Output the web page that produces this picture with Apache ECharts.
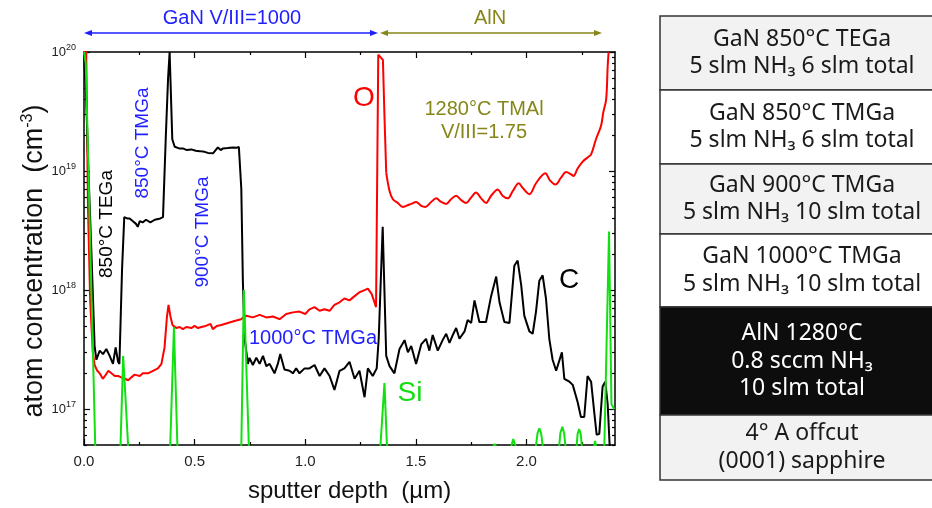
<!DOCTYPE html>
<html><head><meta charset="utf-8">
<script src="https://cdn.jsdelivr.net/npm/echarts@6/dist/echarts.min.js"></script>
<style>html,body{margin:0;padding:0;background:#fff}#c{width:932px;height:508px}</style>
</head><body><div id="c"></div>
<script>
// ---------- data ----------
const xTickValues = [0, 0.5, 1.0, 1.5, 2.0];
const xTickLabels = ['0.0', '0.5', '1.0', '1.5', '2.0'];
const xMinorValues = [0.25, 0.75, 1.25, 1.75, 2.25];
const yDecades = [17, 18, 19, 20];

const cDepth = [0.000,0.010,0.020,0.033,0.048,0.056,0.071,0.086,0.101,0.116,0.131,0.143,0.154,0.160,0.172,0.182,0.195,0.206,0.220,0.235,0.243,0.252,0.265,0.280,0.300,0.320,0.345,0.357,0.370,0.380,0.387,0.399,0.410,0.430,0.447,0.465,0.485,0.505,0.523,0.545,0.560,0.583,0.595,0.605,0.618,0.628,0.650,0.673,0.690,0.700,0.711,0.718,0.726,0.741,0.748,0.763,0.779,0.794,0.809,0.824,0.839,0.861,0.876,0.887,0.906,0.929,0.944,0.959,0.974,0.997,1.019,1.042,1.065,1.087,1.110,1.132,1.155,1.177,1.200,1.223,1.245,1.268,1.283,1.305,1.323,1.332,1.350,1.366,1.381,1.403,1.426,1.449,1.464,1.479,1.501,1.524,1.546,1.561,1.576,1.599,1.621,1.637,1.652,1.667,1.682,1.697,1.720,1.734,1.750,1.765,1.787,1.817,1.840,1.863,1.878,1.900,1.923,1.945,1.960,1.976,1.990,2.013,2.028,2.043,2.058,2.073,2.088,2.103,2.118,2.134,2.160,2.171,2.194,2.209,2.231,2.246,2.261,2.276,2.292,2.306,2.317,2.329,2.344,2.356,2.367,2.375,2.385];
const cConc = [1.0e20,4.0e19,1.0e19,2.2e18,3.4e17,2.6e17,3.1e17,2.9e17,3.2e17,2.8e17,2.4e17,3.3e17,2.5e17,2.4e17,1.5e18,4.1e18,4.0e18,4.0e18,3.8e18,3.6e18,3.4e18,3.8e18,3.7e18,3.9e18,3.7e18,3.9e18,4.0e18,4.1e18,2.0e19,6.0e19,1.0e20,1.85e19,1.6e19,1.55e19,1.55e19,1.5e19,1.52e19,1.48e19,1.47e19,1.45e19,1.42e19,1.41e19,1.5e19,1.58e19,1.5e19,1.55e19,1.56e19,1.58e19,1.57e19,1.59e19,7.1e18,1.2e18,3.9e17,2.4e17,2.7e17,2.35e17,2.7e17,2.4e17,2.8e17,2.3e17,2.4e17,2.0e17,2.4e17,2.9e17,2.15e17,2.1e17,2.0e17,2.2e17,2.0e17,2.2e17,2.2e17,2.35e17,1.9e17,2.2e17,1.9e17,1.45e17,2.1e17,2.2e17,2.5e17,1.8e17,2.1e17,1.26e17,2.2e17,1.9e17,2.2e17,3.9e17,3.4e18,2.8e17,2.3e17,2.0e17,3.2e17,3.8e17,3.0e17,3.4e17,2.4e17,3.5e17,3.9e17,3.1e17,4.2e17,3.1e17,3.8e17,4.3e17,3.6e17,4.2e17,4.8e17,3.9e17,4.5e17,5.6e17,5.3e17,8.2e17,5.4e17,5.4e17,8.9e17,1.3e18,7.9e17,5.4e17,5.3e17,1.6e18,1.77e18,1.1e18,6.1e17,4.5e17,4.3e17,6.6e17,1.2e18,1.33e18,8.5e17,3.9e17,2.6e17,2.1e17,3.0e17,1.8e17,1.7e17,1.6e17,1.15e17,8.6e16,8.6e16,1.9e17,1.7e17,9.5e16,6.1e16,6.2e16,1.55e17,1.7e17,1.1e17,5.3e16,3.0e16];

const oDepth = [0.000,0.010,0.018,0.028,0.040,0.048,0.060,0.071,0.085,0.095,0.110,0.124,0.139,0.154,0.169,0.185,0.200,0.214,0.229,0.252,0.266,0.289,0.312,0.334,0.350,0.364,0.375,0.382,0.390,0.400,0.417,0.432,0.447,0.462,0.485,0.500,0.515,0.530,0.550,0.572,0.582,0.600,0.620,0.650,0.680,0.710,0.733,0.763,0.794,0.824,0.854,0.884,0.914,0.944,0.974,1.000,1.019,1.042,1.065,1.087,1.110,1.132,1.155,1.177,1.200,1.223,1.245,1.268,1.283,1.300,1.310,1.320,1.330,1.337,1.351,1.358,1.366,1.381,1.396,1.418,1.441,1.456,1.479,1.501,1.524,1.543,1.569,1.592,1.614,1.637,1.659,1.682,1.705,1.727,1.750,1.772,1.795,1.817,1.840,1.870,1.892,1.915,1.938,1.965,1.983,2.013,2.043,2.085,2.107,2.131,2.156,2.179,2.201,2.212,2.231,2.254,2.276,2.292,2.314,2.337,2.347,2.360,2.367,2.371];
const oConc = [1.0e20,1.0e20,5.0e18,8.0e17,3.0e17,2.35e17,2.1e17,2.0e17,1.8e17,1.9e17,2.1e17,2.0e17,1.9e17,1.9e17,1.85e17,1.8e17,1.75e17,1.85e17,1.95e17,1.9e17,2.0e17,2.0e17,2.1e17,2.2e17,2.4e17,3.3e17,6.0e17,7.5e17,6.1e17,5.1e17,4.8e17,4.9e17,4.7e17,4.9e17,4.8e17,5.0e17,4.8e17,4.9e17,5.0e17,5.2e17,4.7e17,5.0e17,5.1e17,5.3e17,5.5e17,5.7e17,6.1e17,5.9e17,6.2e17,5.9e17,6.0e17,5.7e17,6.3e17,6.5e17,6.6e17,6.3e17,6.9e17,7.2e17,6.7e17,6.9e17,6.7e17,7.5e17,7.9e17,8.5e17,8.2e17,8.9e17,9.6e17,1.0e18,1.03e18,9.3e17,8.2e17,7.2e17,9.5e19,9.5e19,8.6e19,2.9e19,9.7e18,6.8e18,5.8e18,5.4e18,5.0e18,5.1e18,5.3e18,5.5e18,5.1e18,5.0e18,5.5e18,5.9e18,5.5e18,5.3e18,5.8e18,6.2e18,5.7e18,5.4e18,6.0e18,6.6e18,5.9e18,5.4e18,6.2e18,7.0e18,6.2e18,5.9e18,6.8e18,7.9e18,7.2e18,6.4e18,7.9e18,9.6e18,8.3e18,7.7e18,8.8e18,9.8e18,9.4e18,9.1e18,1.05e19,1.2e19,1.3e19,1.38e19,1.85e19,2.4e19,3.1e19,4.0e19,7.6e19,1.0e20];

const siDepth = [0.000,0.008,0.060,0.154,0.177,0.220,0.378,0.4065,0.433,0.705,0.7226,0.757,1.316,1.358,1.384,1.840,1.850,1.856,1.862,1.880,1.915,1.930,1.940,1.952,1.970,2.025,2.040,2.050,2.058,2.066,2.076,2.095,2.130,2.146,2.153,2.162,2.170,2.178,2.195,2.210,2.225,2.231,2.238,2.245,2.252,2.270,2.290,2.302,2.310,2.318,2.335,2.352,2.373,2.384,2.397];
const siConc = [1.0e20,8.0e19,1.0e16,1.0e16,2.8e17,1.0e16,1.0e16,4.9e17,1.0e16,1.0e16,1.0e18,1.0e16,1.0e16,1.66e17,1.0e16,1.0e16,4.9e16,5.1e16,4.9e16,1.0e16,1.0e16,4.8e16,5.6e16,4.8e16,1.0e16,1.0e16,4.5e16,6.3e16,6.9e16,6.3e16,4.5e16,1.0e16,1.0e16,4.5e16,6.3e16,7.1e16,6.3e16,4.5e16,1.0e16,1.0e16,4.5e16,6.2e16,6.8e16,6.2e16,4.5e16,1.0e16,1.0e16,4.5e16,5.4e16,4.5e16,1.0e16,5.0e16,3.1e18,1.1e17,1.0e17];

const tableLines = [
  ['GaN 850°C TEGa', '5 slm NH₃ 6 slm total'],
  ['GaN 850°C TMGa', '5 slm NH₃ 6 slm total'],
  ['GaN 900°C TMGa', '5 slm NH₃ 10 slm total'],
  ['GaN 1000°C TMGa', '5 slm NH₃ 10 slm total'],
  ['AlN 1280°C', '0.8 sccm NH₃', '10 slm total'],
  ['4° A offcut', '(0001) sapphire']
];

// ---------- layout / styles ----------
const FONT = '"Liberation Sans", Arial, sans-serif';
const TFONT = '"Noto Sans", "Open Sans", sans-serif';
const rowEdges = [16, 90, 164, 234, 307, 415, 480];
const rowFills = ['#f2f2f2', '#ffffff', '#f2f2f2', '#ffffff', '#0d0d0d', '#f2f2f2'];
const rowText = ['#1a1a1a', '#1a1a1a', '#1a1a1a', '#1a1a1a', '#ffffff', '#1a1a1a'];
const tableX = 660, tableW = 290;
const BLUE = '#1f1fff', OLIVE = '#86861a';

const pairs = (xs, ys, a, b) => xs.slice(a, b).map((x, i) => [x, ys[a + i]]);
const yMinor = [];
for (let d = 16; d < 20; d++) for (let m = 2; m <= 9; m++) { const v = m * Math.pow(10, d); if (v >= 5e16) yMinor.push(v); }
const yMajor = yDecades.map(d => Math.pow(10, d));
const oSplit = oDepth.indexOf(1.366);

const lineStyleAx = { color: '#000', width: 1.5 };
const tickStyle = { color: '#000', width: 1.2 };

function xAx(pos, values, len, labels, line) {
  return {
    type: 'value', position: pos, min: 0, max: 2.4, gridIndex: 0,
    splitLine: { show: false },
    axisLine: { show: line, onZero: false, lineStyle: lineStyleAx },
    axisTick: { show: true, inside: true, length: len, customValues: values, lineStyle: tickStyle },
    axisLabel: labels ? {
      show: true, customValues: xTickValues, margin: 9,
      formatter: v => { const i = xTickValues.findIndex(t => Math.abs(t - v) < 1e-6); return i >= 0 ? xTickLabels[i] : ''; },
      color: '#222', fontSize: 15, fontFamily: FONT
    } : { show: false },
    name: labels ? 'sputter depth  (µm)' : '', nameLocation: 'middle', nameGap: 34,
    nameTextStyle: { fontSize: 24, color: '#111', fontFamily: FONT }
  };
}
function yAx(pos, values, len, labels, line) {
  return {
    type: 'log', position: pos, min: 5e16, max: 1e20, logBase: 10, gridIndex: 0,
    splitLine: { show: false },
    axisLine: { show: line, onZero: false, lineStyle: lineStyleAx },
    axisTick: { show: true, inside: true, length: len, customValues: values, lineStyle: tickStyle },
    axisLabel: labels ? {
      show: true, margin: 8,
      formatter: v => { const e = Math.round(Math.log10(v)); return (yDecades.includes(e) && Math.abs(v / Math.pow(10, e) - 1) < 1e-6) ? '{b|10}{s|' + e + '}' : ''; },
      rich: { b: { fontSize: 13, color: '#222', fontFamily: FONT }, s: { fontSize: 9, color: '#222', fontFamily: FONT, padding: [0, 0, 9, 0] } }
    } : { show: false }
  };
}

const graphic = [];
function arrow(x1, x2, y, color) {
  graphic.push({ type: 'line', shape: { x1: x1 + 4, y1: y, x2: x2 - 4, y2: y }, style: { stroke: color, lineWidth: 1.3 } });
  graphic.push({ type: 'polygon', shape: { points: [[x1, y], [x1 + 8, y - 3], [x1 + 8, y + 3]] }, style: { fill: color } });
  graphic.push({ type: 'polygon', shape: { points: [[x2, y], [x2 - 8, y - 3], [x2 - 8, y + 3]] }, style: { fill: color } });
}
arrow(84, 378, 33, BLUE);
arrow(380, 602, 33, OLIVE);
function txt(x, y, s, color, size, rot, font, rich) {
  graphic.push({ type: 'text', x: x, y: y, rotation: rot || 0, z: 10,
    style: { text: s, fill: color, fontSize: size, fontFamily: font || FONT, align: 'center', verticalAlign: 'middle', rich: rich } });
}
txt(232, 18, 'GaN V/III=1000', BLUE, 20);
txt(490, 18, 'AlN', OLIVE, 20);
txt(107, 224, '850°C TEGa', '#000', 19, Math.PI / 2);
txt(143, 143, '850°C TMGa', BLUE, 19, Math.PI / 2);
txt(203, 232, '900°C TMGa', BLUE, 19, Math.PI / 2);
txt(313, 338, '1000°C TMGa', BLUE, 20);
txt(364, 98, 'O', '#ff0000', 28);
txt(484, 109, '1280°C TMAl', OLIVE, 20);
txt(484, 132, 'V/III=1.75', OLIVE, 20);
txt(569, 280, 'C', '#000', 28);
txt(410, 393, 'Si', '#11dd11', 28);
// y-axis title
txt(35, 261, 'atom concentration  (cm{sup|-3})', '#111', 27, Math.PI / 2, FONT,
  { sup: { fontSize: 16, fill: '#111', fontFamily: FONT, padding: [0, 0, 14, 0] } });
// table
for (let i = 0; i < tableLines.length; i++) {
  const y0 = rowEdges[i], y1 = rowEdges[i + 1];
  graphic.push({ type: 'rect', shape: { x: tableX, y: y0, width: tableW, height: y1 - y0 }, style: { fill: rowFills[i], stroke: '#333', lineWidth: 1.5 } });
  const n = tableLines[i].length, lh = 27.5;
  const cy = (y0 + y1) / 2;
  tableLines[i].forEach((s, k) => {
    graphic.push({ type: 'text', x: 802, y: cy + (k - (n - 1) / 2) * lh, style: { text: s, fill: rowText[i], fontSize: 23, fontFamily: TFONT, align: 'center', verticalAlign: 'middle' } });
  });
}

const chart = echarts.init(document.getElementById('c'), null, { renderer: 'canvas' });
chart.setOption({
  animation: false,
  backgroundColor: '#fff',
  grid: { left: 84, top: 52, width: 531, height: 395, containLabel: false },
  xAxis: [
    xAx('bottom', xTickValues, 6, true, true),
    xAx('bottom', xMinorValues, 3, false, false),
    xAx('top', xTickValues, 6, false, true),
    xAx('top', xMinorValues, 3, false, false)
  ],
  yAxis: [
    yAx('left', yMajor, 6, true, true),
    yAx('left', yMinor, 3, false, false),
    yAx('right', yMajor, 6, false, true),
    yAx('right', yMinor, 3, false, false)
  ],
  series: [
    { name: 'O', type: 'line', xAxisIndex: 0, yAxisIndex: 0, data: pairs(oDepth, oConc, 0, oSplit + 1), showSymbol: false, clip: true, lineStyle: { color: '#ff0000', width: 2 }, z: 3 },
    { name: 'O (AlN)', type: 'line', xAxisIndex: 0, yAxisIndex: 0, data: pairs(oDepth, oConc, oSplit, oDepth.length), smooth: 0.35, showSymbol: false, clip: true, lineStyle: { color: '#ff0000', width: 2 }, z: 3 },
    { name: 'C', type: 'line', xAxisIndex: 0, yAxisIndex: 0, data: pairs(cDepth, cConc, 0, cDepth.length), showSymbol: false, clip: true, lineStyle: { color: '#000000', width: 2 }, z: 4 },
    { name: 'Si', type: 'line', xAxisIndex: 0, yAxisIndex: 0, data: pairs(siDepth, siConc, 0, siDepth.length), showSymbol: false, clip: true, lineStyle: { color: '#11e011', width: 2 }, z: 5 }
  ],
  graphic: graphic
});
</script>
</body></html>
